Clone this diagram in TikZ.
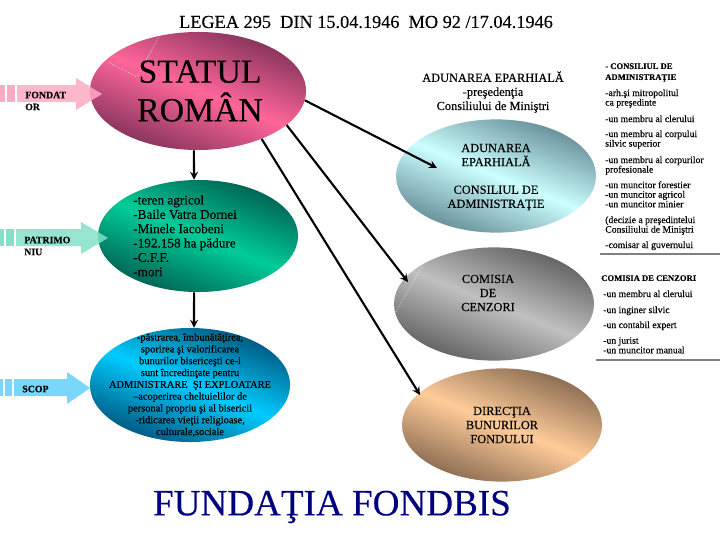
\documentclass[tikz,border=0pt]{standalone}
\usepackage{fontspec}
\setmainfont{Liberation Serif}[FakeBold=0.25]
\usetikzlibrary{shapes.geometric}
\tikzset{
  oval/.style n args={4}{ellipse, minimum width=#1cm, minimum height=#2cm, inner sep=0pt,
    top color=#3, bottom color=#3, middle color=#4, shading angle=-22},
  conn/.style={-stealth, line width=1.5pt},
  scar/.style={white, densely dotted, line width=0.4pt},
  rule/.style={gray, line width=1pt},
  small/.style={align=left, anchor=north west, inner sep=0pt, font=\fontsize{6.9}{6.8}\selectfont},
  smallhead/.style={align=left, anchor=north west, inner sep=0pt, font=\fontsize{6.1}{7.8}\selectfont\bfseries},
  mid/.style={align=center, inner sep=0pt, font=\fontsize{8.8}{10}\selectfont},
  side/.style={align=left, inner sep=0pt, anchor=west, font=\fontsize{7}{8.5}\selectfont\bfseries}
}
\definecolor{pinkhi}{RGB}{255,102,153}
\definecolor{pinklo}{RGB}{130,50,90}
\definecolor{greenhi}{RGB}{0,204,153}
\definecolor{greenlo}{RGB}{0,95,80}
\definecolor{bluehi}{RGB}{0,204,255}
\definecolor{bluelo}{RGB}{0,85,125}
\definecolor{cyanhi}{RGB}{204,255,255}
\definecolor{cyanlo}{RGB}{100,140,150}
\definecolor{grayhi}{RGB}{192,192,192}
\definecolor{graylo}{RGB}{95,95,95}
\definecolor{tanhi}{RGB}{255,204,153}
\definecolor{tanlo}{RGB}{135,105,80}
\definecolor{navy}{RGB}{0,0,128}
\definecolor{arrowpink}{RGB}{255,170,195}
\definecolor{arrowgreen}{RGB}{130,225,200}
\definecolor{arrowblue}{RGB}{120,215,250}
\begin{document}
\begin{tikzpicture}[x=0.025cm, y=-0.025cm]
    \useasboundingbox (0, 0) rectangle (720, 540);

    % ovals
    \node[oval={5.4}{2.95}{pinklo}{pinkhi}] (statul) at (198, 91) {};
    \node[oval={5}{2.8}{greenlo}{greenhi}] (patrimoniu) at (198, 236) {};
    \node[oval={5}{2.85}{bluelo}{bluehi}] (scop) at (190, 385) {};
    \node[oval={5}{2.83}{cyanlo}{cyanhi}] (consiliu) at (496, 176) {};
    \node[oval={5}{2.83}{graylo}{grayhi}] (comisia) at (494, 304) {};
    \node[oval={5}{2.83}{tanlo}{tanhi}] (directia) at (502, 425) {};

    \draw[scar] (160, 35)--(137, 77)--(108, 62);
    \draw[scar] (422, 267)--(395, 313);

    % block arrows
    \fill[arrowpink] (0, 85) rectangle (5, 102);
    \fill[arrowpink] (7, 85) rectangle (15, 102);
    \fill[arrowpink, opacity=0.85] (17, 85)--(76, 85)--(76, 78)--(102, 94)--(76, 110)--(76, 102)--(17, 102)--cycle;

    \fill[arrowgreen] (0, 229) rectangle (4, 246);
    \fill[arrowgreen] (6, 229) rectangle (14, 246);
    \fill[arrowgreen, opacity=0.85] (16, 229)--(81, 229)--(81, 222)--(108, 238)--(81, 254)--(81, 246)--(16, 246)--cycle;

    \fill[arrowblue] (0, 379) rectangle (3, 396);
    \fill[arrowblue] (5, 379) rectangle (12, 396);
    \fill[arrowblue] (14, 379)--(67, 379)--(67, 372)--(90, 388)--(67, 404)--(67, 396)--(14, 396)--cycle;

    % connectors
    \coordinate (tipconsiliu) at (437, 168);
    \coordinate (tipcomisia) at (408, 282);
    \coordinate (tipdirectia) at (420, 395);
    \draw[conn] (statul.-5)--(tipconsiliu);
    \draw[conn] (statul.-21)--(tipcomisia);
    \draw[conn] (statul.-37)--(tipdirectia);
    \draw[conn] (statul.-94)--(patrimoniu.94);
    \draw[conn] (patrimoniu.-94)--(scop.86);

    % rules
    \coordinate (ruleone) at (720, 254);
    \coordinate (ruletwo) at (720, 360);
    \draw[rule] (600, 254)--(ruleone);
    \draw[rule] (596, 360)--(ruletwo);

    % texts
    \node[font=\fontsize{13}{15}\selectfont] (titlu) at (366, 22) {LEGEA 295\ \ DIN 15.04.1946\ \ MO 92 /17.04.1946};
    \node[align=center, font=\fontsize{24}{27.5}\selectfont] (statultext) at (200, 91) {STATUL\\ROMÂN};
    \node[font=\fontsize{26.4}{30}\selectfont, text=navy] (fundatia) at (332, 507) {FUNDAŢIA FONDBIS};

    \node[side] (fondator) at (25, 101) {FONDAT\\OR};
    \node[side] (patrimtext) at (24, 246) {PATRIMO\\NIU};
    \node[side] (scoptext) at (22, 389) {SCOP};

    \node[align=left, anchor=north west, inner sep=0pt, font=\fontsize{9.4}{10.2}\selectfont] (bunuri) at (133, 195) {-teren agricol\\-Baile Vatra Dornei\\-Minele Iacobeni\\-192.158 ha pădure\\-C.F.F.\\-mori};
    \node[align=center, inner sep=0pt, font=\fontsize{7.4}{8.4}\selectfont] (scopuri) at (190, 385) {-păstrarea, îmbunătăţirea,\\sporirea şi valorificarea\\bunurilor bisericeşti ce-i\\sunt încredinţate pentru\\ADMINISTRARE\ \ ŞI EXPLOATARE\\--acoperirea cheltuielilor de\\personal propriu şi al bisericii\\-ridicarea vieţii religioase,\\culturale,sociale};

    \node[mid] (adunare) at (493, 92) {ADUNAREA EPARHIALĂ\\-preşedenţia\\Consiliului de Miniştri};
    \node[mid] (adunaretext) at (496, 155) {ADUNAREA\\EPARHIALĂ};
    \node[mid] (consiliutext) at (496, 198) {CONSILIUL DE\\ADMINISTRAŢIE};
    \node[mid] (comisiatext) at (488, 293) {COMISIA\\DE\\CENZORI};
    \node[mid] (directiatext) at (502, 425) {DIRECŢIA\\BUNURILOR\\FONDULUI};

    \node[smallhead] (c1) at (605, 63) {- CONSILIUL DE\\ADMINISTRAŢIE};
    \node[small] (c2) at (605, 89) {-arh.şi mitropolitul\\ca preşedinte};
    \node[small] (c3) at (605, 115) {-un membru al clerului};
    \node[small] (c4) at (605, 130) {-un membru al corpului\\silvic superior};
    \node[small] (c5) at (605, 156) {-un membru al corpurilor\\profesionale};
    \node[small] (c6) at (605, 181) {-un muncitor forestier\\-un muncitor agricol\\-un muncitor minier};
    \node[small] (c7) at (605, 216) {(decizie a preşedintelui\\Consiliului de Miniştri};
    \node[small] (c8) at (605, 241) {-comisar al guvernului};

    \node[smallhead] (z1) at (601, 275) {COMISIA DE CENZORI};
    \node[small] (z2) at (603, 290) {-un membru al clerului};
    \node[small] (z3) at (603, 306) {-un inginer silvic};
    \node[small] (z4) at (603, 321) {-un contabil expert};
    \node[small] (z5) at (603, 337) {-un jurist\\-un muncitor manual};
\end{tikzpicture}
\end{document}
